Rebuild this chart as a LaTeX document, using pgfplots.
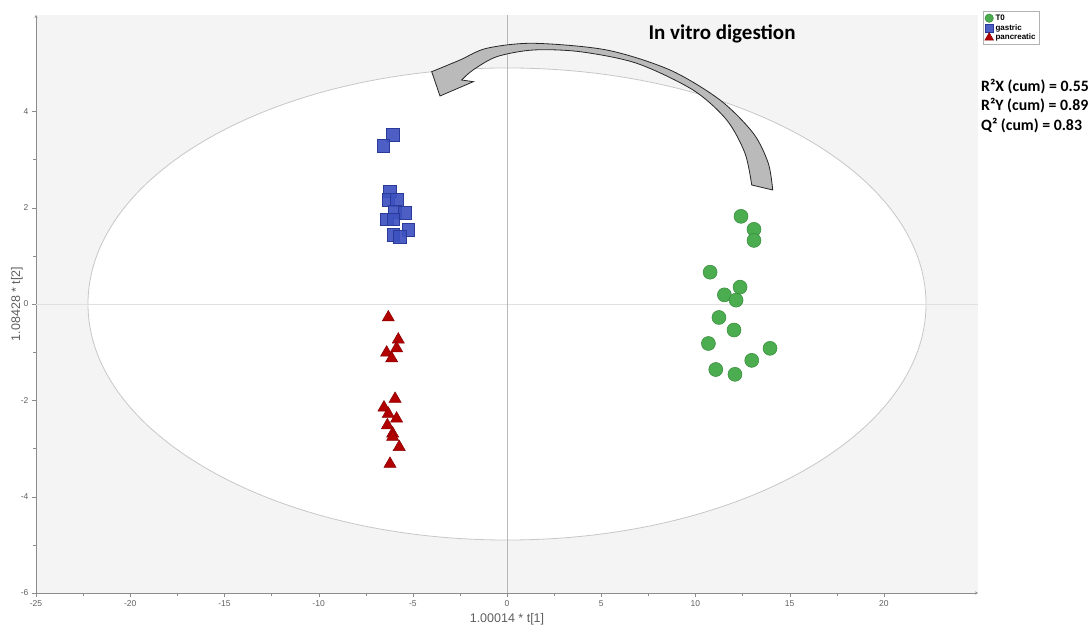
\documentclass[border=0pt]{standalone}
\usepackage{pgfplots}
\pgfplotsset{compat=1.18}
\usepackage{fontspec}
\setmainfont{Liberation Sans}
\newfontfamily\carlito{Carlito}
\definecolor{gF}{RGB}{76,172,80}
\definecolor{gE}{RGB}{52,138,58}
\definecolor{bF}{RGB}{62,82,192}
\definecolor{bE}{RGB}{42,58,155}
\definecolor{rF}{RGB}{178,0,0}
\definecolor{rE}{RGB}{135,0,0}
\definecolor{bgG}{RGB}{244,244,244}
\definecolor{tickG}{RGB}{95,95,95}
\pgfplotsset{legsmall/.style={legend image code/.code={\draw[##1, mark size=#1] plot coordinates {(4pt,0pt)};}}}
\begin{document}
\begin{tikzpicture}[x=1pt,y=1pt]
\path[use as bounding box] (0,0) rectangle (1091,626);
\begin{axis}[
  at={(36pt,33pt)}, anchor=south west,
  scale only axis, width=942pt, height=578pt,
  xmin=-25, xmax=25, ymin=-6, ymax=6,
  axis lines=left,
  axis line style={black!45},
  xtick={-25,-20,...,20}, ytick={-6,-4,...,4},
  minor x tick num=1, minor y tick num=1,
  tick align=outside, major tick length=4pt, minor tick length=3pt,
  tick style={black!45},
  /pgf/number format/assume math mode=true,
  ticklabel style={font=\fontsize{8.5}{10}\selectfont, text=tickG},
  xlabel={1.00014 * t[1]}, ylabel={1.08428 * t[2]},
  xlabel style={at={(axis description cs:0.5,-0.045)}, anchor=center},
  ylabel style={at={(axis description cs:-0.0202,0.5)}, anchor=center},
  label style={font=\fontsize{12.5}{14}\selectfont, text=tickG},
  axis background/.style={fill=bgG},
  clip=false,
  legend style={at={(axis description cs:1.0058,1.0065)}, anchor=north west,
    font=\fontsize{8}{9}\bfseries\selectfont, draw=black!30, fill=white,
    inner sep=1.2pt, row sep=-1.5pt, cells={anchor=west}},
]
\fill[white, draw=black!22, line width=0.8pt] (axis cs:0,0) ellipse [x radius=22.24, y radius=4.9];
\draw[black!12, line width=0.8pt] (axis cs:-25,0) -- (axis cs:25,0);
\draw[black!28, line width=0.8pt] (axis cs:0,-6) -- (axis cs:0,6);

\addplot[only marks, mark=*, mark size=7pt, mark options={draw=gE, fill=gF, line width=0.5pt}, legsmall=4.2pt]
coordinates {
(12.42,1.82) (13.11,1.55) (13.11,1.32) (10.78,0.66) (12.37,0.35) (11.54,0.19) (12.16,0.08)
(11.25,-0.28) (12.05,-0.54) (10.69,-0.82) (13.96,-0.92) (12.99,-1.17) (11.08,-1.36) (12.10,-1.46)
};
\addlegendentry{T0}
\addplot[only marks, mark=square*, mark size=6.4pt, mark options={draw=bE, fill=bF, fill opacity=0.92, line width=0.5pt}, legsmall=3.9pt]
coordinates {
(-6.05,3.52) (-6.57,3.28) (-6.21,2.34) (-6.30,2.17) (-5.85,2.17) (-5.94,1.92) (-5.41,1.89)
(-6.39,1.76) (-6.04,1.76) (-5.24,1.54) (-6.04,1.44) (-5.68,1.40)
};
\addlegendentry{gastric}
\addplot[only marks, mark=triangle*, mark size=7pt, mark options={draw=rE, fill=rF, line width=0.5pt}, legsmall=5pt]
coordinates {
(-6.30,-0.28) (-5.77,-0.74) (-5.86,-0.92) (-6.39,-1.01) (-6.12,-1.13) (-5.94,-1.97) (-6.53,-2.15)
(-6.30,-2.28) (-5.86,-2.38) (-6.35,-2.52) (-6.07,-2.69) (-6.07,-2.76) (-5.72,-2.97) (-6.21,-3.32)
};
\addlegendentry{pancreatic}
\end{axis}
% curved block arrow
\draw[fill=black!27, draw=black!85, line width=0.8pt]
  plot[smooth] coordinates {(772.7,436) (768.3,462.7) (753.3,492.7) (720,526) (670,556) (606.7,576) (533.3,582.7) (486.7,577.7) (460,566) (431.7,554.3)}
  -- (440,530) -- (473.3,544.3) -- (461.7,546)
  -- plot[smooth] coordinates {(461.7,546) (473,556) (496.7,569.3) (533.3,576) (580,574.3) (636.7,562.7) (693,536) (726.7,506) (745,472.7) (751.7,441)}
  -- cycle;
\node[font=\carlito\bfseries\fontsize{21}{23}\selectfont, anchor=center] at (722,592) {In vitro digestion};
\node[font=\carlito\bfseries\fontsize{15.8}{19.5}\selectfont, anchor=west, align=left, inner sep=0pt] at (981,520)
  {R²X (cum) = 0.55\\R²Y (cum) = 0.89\\Q² (cum) = 0.83};
\end{tikzpicture}
\end{document}
